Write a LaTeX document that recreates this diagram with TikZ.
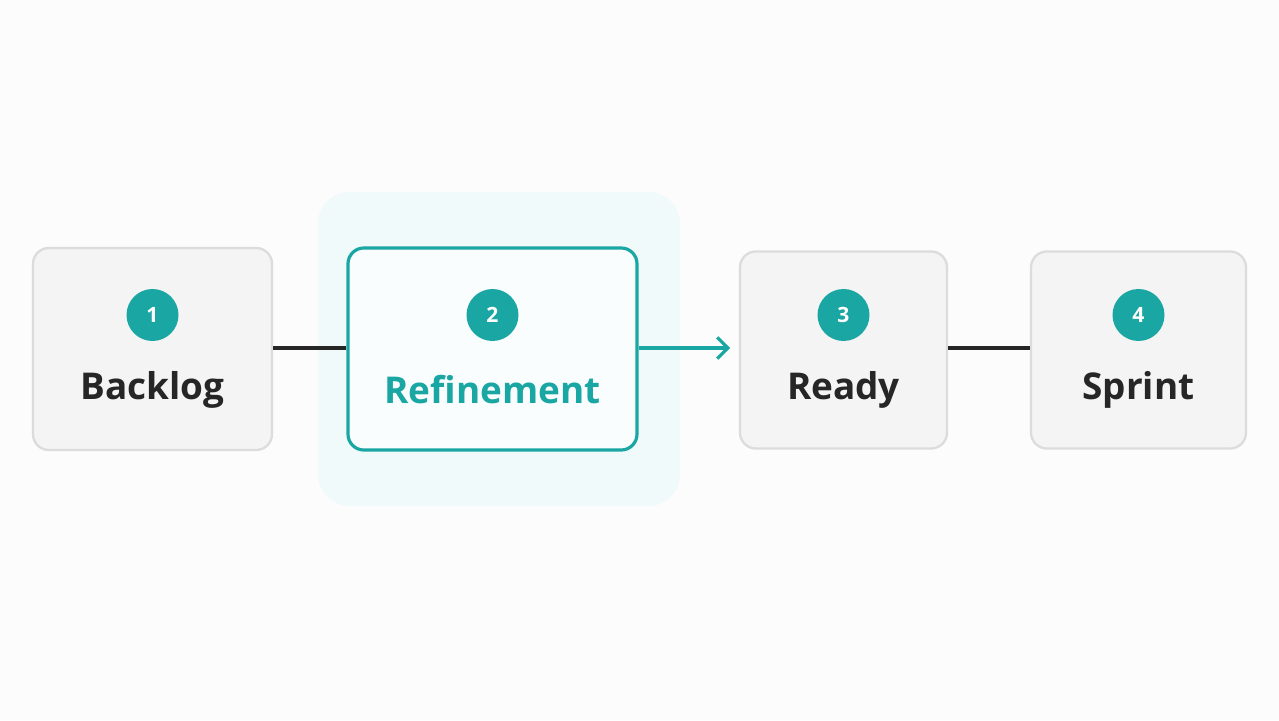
\documentclass[tikz,border=0pt]{standalone}
\usepackage{fontspec}
\setmainfont{Open Sans}[BoldFont={Open Sans Bold}]
\usetikzlibrary{arrows.meta}
\definecolor{teal1}{HTML}{1AA6A3}
\definecolor{boxfill}{HTML}{F4F4F4}
\definecolor{boxline}{HTML}{DCDCDC}
\definecolor{glow}{HTML}{F1FAFA}
\tikzset{
  stage/.style={draw=boxline, line width=1.3pt, fill=boxfill, rounded corners=9pt},
  badge/.style={circle, fill=teal1, minimum size=1.04cm, inner sep=0pt, text=white, font=\bfseries\fontsize{12}{12}\selectfont},
  title/.style={font=\bfseries\fontsize{21}{21}\selectfont, text=black!85},
  link/.style={line width=1.8pt, draw=black!85}
}
\begin{document}
\begin{tikzpicture}
\useasboundingbox[fill=white!99!black] (0,0) rectangle (25.58,14.4);
% highlight behind the active stage
\fill[glow, rounded corners=18pt] (6.36,4.28) rectangle (13.6,10.56);
% stages
\node[stage, minimum width=4.78cm, minimum height=4.04cm] (backlog) at (3.05,7.42) {};
\node[stage, draw=teal1, fill=white!60!glow, line width=1.8pt, minimum width=5.78cm, minimum height=4.04cm] (refine) at (9.85,7.42) {};
\node[stage, minimum width=4.14cm, minimum height=3.94cm] (ready) at (16.87,7.4) {};
\node[stage, minimum width=4.3cm, minimum height=3.94cm] (sprint) at (22.77,7.4) {};
%
\node[badge] (b1) at (3.05,8.1) {1};
\node[badge] (b2) at (9.85,8.1) {2};
\node[badge] (b3) at (16.87,8.1) {3};
\node[badge] (b4) at (22.77,8.1) {4};
%
\node[title] (t1) at (3.05,6.6) {Backlog};
\node[title, text=teal1] (t2) at (9.85,6.6) {Refinement};
\node[title] (t3) at (16.87,6.6) {Ready};
\node[title] (t4) at (22.77,6.6) {Sprint};
% connectors
\coordinate (tip) at (14.6,7.44);
\draw[link] (backlog.east |- 0,7.44) -- (refine.west |- 0,7.44);
\draw[link, draw=teal1, -{Straight Barb[length=6pt,width=12pt]}] (refine.east |- 0,7.44) -- (tip);
\draw[link] (ready.east |- 0,7.44) -- (sprint.west |- 0,7.44);
\end{tikzpicture}
\end{document}
